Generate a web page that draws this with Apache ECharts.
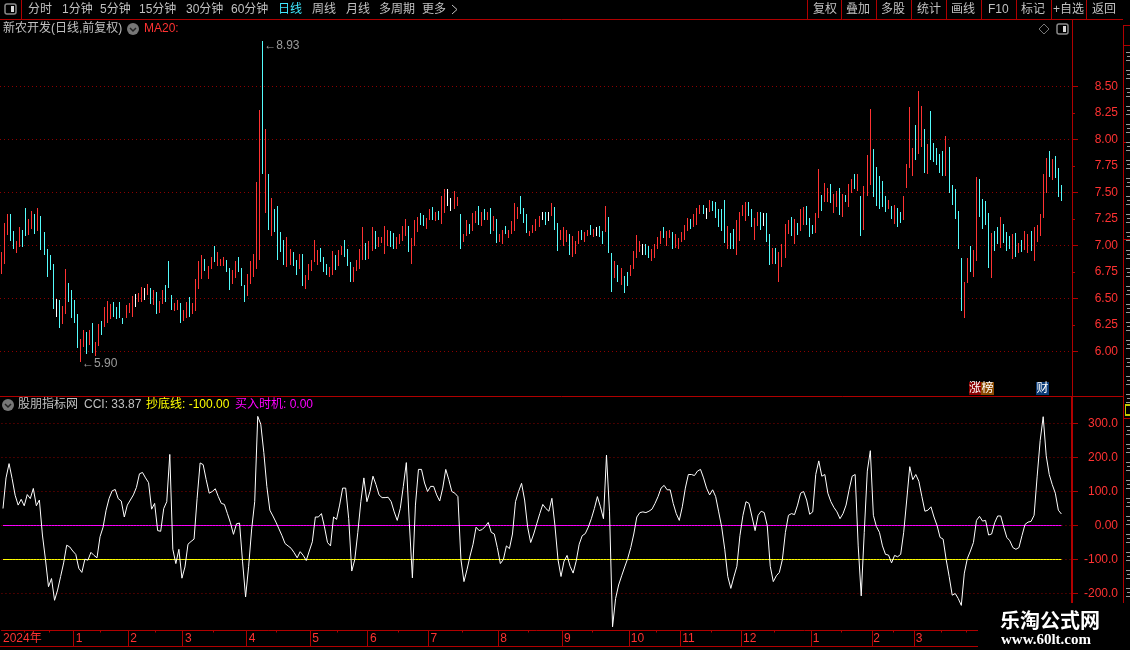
<!DOCTYPE html>
<html><head><meta charset="utf-8"><title>新农开发</title>
<style>html,body{margin:0;padding:0;background:#000}#c{width:1130px;height:650px}</style>
<script src="https://cdn.jsdelivr.net/npm/echarts@6/dist/echarts.min.js"></script></head>
<body><div id="c"></div>
<script>
const priceHigh=[6.94,7.21,7.30,7.30,7.14,7.04,7.17,7.15,7.35,7.25,7.33,7.30,7.35,7.28,7.13,6.97,6.91,6.83,6.50,6.49,6.43,6.78,6.65,6.58,6.49,6.35,6.12,6.20,6.18,6.20,6.27,6.09,6.26,6.29,6.42,6.48,6.45,6.47,6.42,6.47,6.32,6.44,6.46,6.52,6.54,6.55,6.61,6.60,6.64,6.60,6.58,6.56,6.48,6.58,6.63,6.85,6.53,6.46,6.49,6.46,6.39,6.47,6.51,6.46,6.68,6.85,6.91,6.87,6.81,6.89,7.00,6.94,6.87,6.89,6.86,6.79,6.77,6.85,6.89,6.79,6.63,6.73,6.85,6.92,
7.60,8.28,8.93,8.10,7.67,7.45,7.34,7.37,7.13,7.05,7.08,6.97,6.94,6.86,6.92,6.92,6.72,6.83,
6.86,7.05,6.96,6.98,6.89,6.83,6.80,6.95,6.91,6.96,7.00,7.05,6.97,6.84,6.80,6.86,6.97,7.17,7.02,7.04,
7.17,7.14,7.08,7.08,7.18,7.15,7.14,7.12,7.08,7.11,7.18,7.25,7.18,7.07,7.24,7.27,7.31,7.29,7.26,7.34,7.36,7.32,7.33,7.47,7.53,7.53,7.45,
7.51,7.46,7.30,7.11,7.24,7.20,7.31,7.33,7.37,7.32,7.34,7.32,7.35,7.28,7.25,7.11,7.15,7.18,7.15,7.23,7.40,7.36,7.47,7.35,7.30,7.14,7.19,
7.25,7.28,7.32,7.32,7.32,7.40,7.36,7.21,
7.15,7.17,7.15,7.11,7.09,7.04,7.14,7.15,7.13,7.15,7.19,7.16,7.17,7.18,7.14,7.37,7.27,6.93,6.85,6.82,
6.79,6.71,6.75,6.82,6.95,7.10,7.04,7.01,7.01,7.00,6.97,7.01,7.08,7.14,7.17,7.14,7.15,7.13,7.11,7.07,7.13,7.19,7.26,7.25,7.30,7.35,7.38,
7.38,7.35,7.43,7.42,7.41,7.34,7.34,7.43,7.18,7.12,7.16,7.24,7.32,7.38,7.41,7.41,7.34,7.26,7.32,7.32,7.31,7.31,7.11,6.98,6.98,6.94,7.01,
7.20,7.24,7.27,7.25,7.21,7.34,7.36,7.37,7.26,7.19,7.31,7.72,7.48,7.59,7.54,7.58,7.49,7.51,7.54,
7.49,7.48,7.58,7.63,7.67,7.67,7.47,7.56,
7.85,8.29,7.91,7.74,7.66,7.61,7.47,7.43,7.37,7.38,7.35,7.32,7.47,7.77,8.31,7.92,8.14,8.46,8.32,8.10,7.96,8.27,7.97,7.92,7.86,7.89,8.03,
7.93,7.57,7.53,7.33,6.88,6.66,6.88,7.00,6.96,7.65,7.63,7.44,7.42,7.31,7.12,7.14,7.17,7.27,7.20,7.13,7.09,7.11,7.12,7.02,7.05,7.14,7.11,
7.14,7.17,7.19,7.30,7.67,7.83,7.89,7.82,7.84,7.73,7.57];
const priceLow=[6.73,6.83,7.10,7.04,6.97,6.93,6.99,6.99,7.09,7.10,7.16,7.11,7.14,6.96,6.91,6.70,6.77,6.40,6.33,6.22,6.26,6.35,6.47,6.32,6.27,6.03,5.90,6.04,5.98,6.06,5.99,5.96,6.05,6.16,6.23,6.27,6.31,6.33,6.31,6.32,6.26,6.32,6.36,6.33,6.42,6.47,6.47,6.49,6.53,6.45,6.44,6.35,6.36,6.45,6.47,6.60,6.39,6.38,6.39,6.27,6.29,6.32,6.33,6.35,6.38,6.59,6.68,6.76,6.68,6.78,6.84,6.81,6.81,6.81,6.75,6.58,6.64,6.69,6.75,6.62,6.47,6.52,6.64,6.70,
6.78,6.86,7.67,7.31,7.15,7.09,7.13,6.86,6.94,6.82,6.80,6.82,6.81,6.72,6.78,6.62,6.59,6.67,
6.76,6.84,6.82,6.84,6.75,6.72,6.70,6.72,6.77,6.81,6.91,6.89,6.81,6.66,6.66,6.76,6.78,6.86,6.86,6.87,
6.95,6.97,6.99,7.02,6.92,7.00,6.99,6.97,6.97,7.01,7.04,7.09,6.94,6.83,7.00,7.13,7.19,7.18,7.16,7.24,7.24,7.23,7.24,7.20,7.31,7.37,7.33,
7.34,7.37,6.97,7.03,7.09,7.11,7.14,7.21,7.19,7.18,7.24,7.24,7.11,7.14,7.02,7.03,7.01,7.11,7.07,7.11,7.14,7.25,7.30,7.21,7.12,7.09,7.12,
7.14,7.17,7.24,7.19,7.23,7.28,7.15,6.95,
7.05,7.00,7.03,6.91,6.89,6.92,7.01,7.05,7.03,7.09,7.10,7.08,7.09,7.08,7.01,7.13,6.93,6.56,6.69,6.66,
6.63,6.55,6.62,6.71,6.78,6.88,6.94,6.91,6.91,6.88,6.85,6.88,6.97,7.01,7.07,7.00,7.07,6.97,6.98,6.97,7.03,7.05,7.14,7.16,7.17,7.19,7.30,
7.30,7.25,7.32,7.33,7.26,7.17,7.14,7.02,6.97,6.97,6.97,6.91,7.04,7.28,7.23,7.28,7.17,7.05,7.18,7.15,7.18,7.03,6.82,6.83,6.83,6.66,6.80,
6.88,7.11,7.09,7.01,7.10,7.14,7.19,7.19,7.08,7.11,7.12,7.26,7.33,7.41,7.41,7.40,7.31,7.36,7.29,
7.27,7.41,7.36,7.50,7.53,7.51,7.09,7.15,
7.47,7.57,7.46,7.37,7.34,7.36,7.32,7.34,7.25,7.20,7.17,7.21,7.24,7.54,7.73,7.66,7.81,7.86,7.93,7.68,7.67,7.81,7.79,7.76,7.68,7.66,7.66,
7.50,7.38,7.25,6.97,6.38,6.32,6.65,6.75,6.70,6.85,7.27,7.16,7.19,6.79,6.69,6.95,7.01,6.98,7.02,6.95,6.97,6.87,6.89,6.93,6.94,6.96,6.93,
6.95,6.85,7.03,7.09,7.26,7.50,7.65,7.62,7.64,7.46,7.42];
const barKinds=("rrrccrrccr rcrcccccwc rrccccrrcr crrcrrrccc crrrwrrwrc rcrrcccrrc rrcrrrrcrr crrrccrrcc crrr"+
"rrcrcrcccc rrccrcrr"+
"rrrcccrrcr rcccrrrrcr rcrrrrccrr rrcrrrccrr crcrrww rrcrrcrrcr crcrcrrcrr rrcccrr rrwcwrcc"+
"rrrcrrrcrr crwccrccrc rccrrrrwcc rrrrcrrcrr rrrcrrr cwrcccccrc crrrrccrrc wccrcrr rrcrcrrccc rrcrrcrrc"+
"rcrrcrcr rrcccccrcr ccrrrrcrrc rcccccr cccccrrcrr ccccrccrcc crcrcrr crrrrrcrccc").replace(/ /g,"").split("");
const cciValues=[50,140,182,138,89,60,77,58,91,79,
109,58,75,-28,-100,-180,-156,-220,-190,-150,
-110,-58,-63,-75,-85,-126,-138,-99,-102,-79,
-88,-95,-33,-5,45,80,102,106,79,72,
25,60,75,90,112,152,156,140,126,48,
65,-15,-17,50,70,209,-70,-112,-70,-155,
-122,-55,-47,-40,79,184,179,135,95,100,
108,85,65,62,35,8,-26,5,7,-107,
-210,-120,-10,70,321,298,215,115,45,28,
10,-10,-30,-53,-60,-67,-80,-95,-77,-88,
-103,-75,-48,25,25,35,-4,-50,-60,25,
18,60,110,110,20,-134,-100,-20,70,140,
70,100,145,120,90,82,82,83,70,40,
15,50,115,185,5,-154,60,165,165,125,
100,115,115,90,72,110,165,135,100,95,
85,-100,-165,-130,-90,-55,-5,-15,-12,-3,
9,-20,-25,-65,-112,-100,-60,-68,-25,70,
100,124,75,-5,-50,-25,5,35,62,50,
42,80,0,-100,-150,-105,-88,-120,-140,-105,
-55,-30,-24,-5,20,50,85,55,20,207,
40,-298,-215,-175,-148,-122,-97,-65,-25,25,
38,40,38,42,48,65,85,110,118,105,
105,65,35,15,55,110,150,150,147,160,
165,140,110,90,105,85,40,-5,-70,-150,
-185,-151,-120,-30,30,70,65,25,-15,30,
42,38,0,-120,-165,-148,-138,-100,-20,30,
35,32,60,95,100,75,33,40,150,
190,145,150,95,70,53,40,20,35,60,
105,145,150,-60,-207,-20,160,220,30,-3,
-20,-60,-85,-87,-110,-88,-92,-85,-20,75,
173,135,150,130,85,42,45,55,25,0,
-35,-40,-100,-150,-205,-200,-215,-235,-140,-97,
-75,-50,15,27,13,15,-28,-25,8,28,
28,-5,-35,-45,-65,-70,-65,-30,3,10,
12,30,143,250,320,205,150,120,95,45,33.87];
const buyLevel=0, bottomLevel=-100;
const monthLabels=["2024年","1","2","3","4","5","6","7","8","9","10","11","12","1","2","3"];
const monthBars=[0,24,42,60,81,102,121,141,164,185,207,224,244,267,287,301];
const weekBars=[8,16,33,51,70,91,111,131,152,174,195,216,234,255,277,294,310,318];
const priceTicks=[8.5,8.25,8,7.75,7.5,7.25,7,6.75,6.5,6.25,6];
const priceMajor=[8.5,8,7.5,7,6.5,6];
const cciTicks=[300,200,100,0,-100,-200];
const extremes=[[26,5.90],[86,8.93]];
const toolbarLeft=[["分时",28],["1分钟",62],["5分钟",100],["15分钟",139],["30分钟",186],["60分钟",231],["日线",278],["周线",312],["月线",346],["多周期",379],["更多",422]];
const toolbarRight=[["复权",813],["叠加",846],["多股",881],["统计",917],["画线",951],["F10",988],["标记",1021],["+自选",1053],["返回",1092]];
const toolbarSeps=[807,841,876,911,946,981,1016,1051,1086];

const RED="#ff3232",CYAN="#54fcfc",LINE="#b00000",DOT="#8c0000",GREY="#c0c0c0";
const FONT='"Liberation Sans","Noto Sans CJK SC",sans-serif';
const totalBands=353;
const priceMin=6-44.5/106, priceMax=8.5+66.5/106, cciMin=-104.5/0.34, cciMax=128.5/0.34;
const cats=Array.from({length:totalBands},(_,i)=>String(i));
const KCOL={r:RED,c:CYAN,w:"#ffffff"};
const bars=priceHigh.map((h,i)=>[i,priceLow[i],h,barKinds[i]]);
const dotted=v=>({yAxis:v});
const dotStyle={color:DOT,type:[1,3],width:1};
function renderBar(params,api){
 const top=api.coord([api.value(0),api.value(2)]),bot=api.coord([api.value(0),api.value(1)]);
 const x=Math.floor(top[0]),y=Math.round(top[1]),h=Math.max(1,Math.round(bot[1])-y);
 return {type:"rect",shape:{x,y,width:1,height:h},style:{fill:KCOL[bars[params.dataIndex][3]]}};
}
function renderTick(params,api){
 const band=api.size([1,0])[0];
 const top=api.coord([api.value(0),1]),bot=api.coord([api.value(0),api.value(1)]);
 const x=Math.round(top[0]-band/2);
 return {type:"rect",shape:{x,y:top[1],width:1,height:bot[1]-top[1]},style:{fill:LINE}};
}
function T(x,y,text,fill,opt){return {type:"text",z:120,silent:true,style:Object.assign({x,y,text,fill,font:'12px '+FONT,textAlign:"left",textVerticalAlign:"middle"},opt||{})};}
function L(x1,y1,x2,y2,c,w){return {type:"line",z:110,silent:true,shape:{x1,y1,x2,y2},style:{stroke:c||LINE,lineWidth:w||1}};}
function R(x,y,w,h,fill,z,r){return {type:"rect",z:z||110,silent:true,shape:{x,y,width:w,height:h,r:r||0},style:{fill}};}
function sideIcon(x,y){return [
 {type:"rect",z:115,silent:true,shape:{x,y,width:11,height:10,r:2},style:{fill:"#000",stroke:"#8a8a8a",lineWidth:1.5}},
 R(x+6,y+2,3,6,"#d8d8d8",116)];}
function circleIcon(cx,cy){return [
 {type:"circle",z:115,silent:true,shape:{cx,cy,r:6},style:{fill:"#777"}},
 {type:"polyline",z:116,silent:true,shape:{points:[[cx-3,cy-1],[cx,cy+2],[cx+3,cy-1]]},style:{stroke:"#222",fill:"none",lineWidth:1.5}}];}
const g=[];
g.push(L(0,19.5,1123,19.5));
g.push(L(21.5,0,21.5,19));
toolbarSeps.forEach(x=>g.push(L(x+.5,0,x+.5,19)));
g.push(L(1123.5,25,1123.5,603));
toolbarLeft.forEach(([t,x])=>g.push(T(x,9.5,t,t==="日线"?"#40e8ff":GREY,{font:'12px '+FONT})));
g.push({type:"polyline",z:116,silent:true,shape:{points:[[452,5],[457,9.5],[452,14]]},style:{stroke:GREY,fill:"none",lineWidth:1}});
toolbarRight.forEach(([t,x])=>g.push(T(x,9.5,t,GREY)));
g.push(...sideIcon(5,4));
g.push(T(3,29,"新农开发(日线,前复权)",GREY));
g.push(...circleIcon(133,29));
g.push(T(144,29,"MA20:",RED));
g.push({type:"polygon",z:116,silent:true,shape:{points:[[1044,24],[1049,29],[1044,34],[1039,29]]},style:{fill:"none",stroke:"#777",lineWidth:1}});
g.push(...sideIcon(1057,24));
g.push(L(0,396.5,1123,396.5));
g.push(R(969,382,12,13,"#8b0000",115));g.push(R(981,382,13,13,"#8b4a00",115));g.push(R(1036,382,13,13,"#0c3c78",115));
g.push(T(969,388.5,"涨","#fff"));g.push(T(981.5,388.5,"榜","#fff"));g.push(T(1036.5,388.5,"财","#fff"));
g.push(...circleIcon(8,405));
g.push(T(18,405,"股朋指标网",GREY));
g.push(T(84,405,"CCI: 33.87",GREY));
g.push(T(146,405,"抄底线: -100.00","#ffff00"));
g.push(T(235,405,"买入时机: 0.00","#ff00ff"));
g.push(L(0,646.5,978,646.5));
g.push(L(1123,25.5,1130,25.5));g.push(L(1123,45.5,1130,45.5));g.push(L(1123,142.5,1130,142.5));g.push(L(1123,239.5,1130,239.5));
g.push(L(1123,418.5,1130,418.5));
g.push(R(1125,404,5,12,"#c8c800",111));g.push(R(1126,406,4,8,"#000",112));
for(let y=52;y<396;y+=18){g.push(R(1126,y,4,1,"#9a9a9a",111));g.push(R(1127,y+4,3,1,"#9a9a9a",111));g.push(R(1126,y+8,4,1,"#9a9a9a",111));}
for(let y=426;y<600;y+=18){g.push(R(1126,y,4,1,"#9a9a9a",111));g.push(R(1127,y+4,3,1,"#9a9a9a",111));g.push(R(1126,y+8,4,1,"#9a9a9a",111));}
g.push(R(978,603,152,47,"#000",118));
g.push(T(1000,620,"乐淘公式网","#ffffff",{font:'bold 20px "Noto Sans CJK SC",serif'}));
g.push(T(1001,640,"www.60lt.com","#ffffff",{font:'bold 15px "Liberation Serif",serif'}));

const option={
 backgroundColor:"#000",animation:false,
 tooltip:{show:false},
 grid:[{left:0,top:20,width:1072,height:376},{left:0,top:397,width:1072,height:233},{left:0,top:630,width:1072,height:16}],
 xAxis:[
  {type:"category",gridIndex:0,data:cats,axisLine:{show:false},axisTick:{show:false},axisLabel:{show:false},splitLine:{show:false}},
  {type:"category",gridIndex:1,data:cats,position:"bottom",axisLine:{onZero:false,lineStyle:{color:LINE,width:1}},
   axisTick:{show:false},
   axisLabel:{margin:3,interval:0,align:"left",color:RED,fontFamily:FONT,fontSize:12,hideOverlap:false,
    formatter:(v,i)=>{const k=monthBars.indexOf(i);return k>=0?monthLabels[k]:"";}},splitLine:{show:false}},
  {type:"category",gridIndex:2,data:cats,axisLine:{show:false},axisTick:{show:false},axisLabel:{show:false},splitLine:{show:false}}
 ],
 yAxis:[
  {type:"value",gridIndex:0,position:"right",min:priceMin,max:priceMax,scale:true,
   axisLine:{show:true,onZero:false,lineStyle:{color:LINE,width:1}},
   axisTick:{show:true,length:3,customValues:priceTicks,lineStyle:{color:LINE}},
   axisLabel:{show:true,customValues:priceTicks,margin:46,align:"right",color:RED,fontFamily:FONT,fontSize:12,formatter:v=>v.toFixed(2)},
   splitLine:{show:false}},
  {type:"value",gridIndex:0,position:"right",min:priceMin,max:priceMax,scale:true,
   axisLine:{show:false},axisTick:{show:true,length:6,customValues:priceMajor,lineStyle:{color:LINE}},
   axisLabel:{show:false},splitLine:{show:false}},
  {type:"value",gridIndex:1,position:"right",min:cciMin,max:cciMax,
   axisLine:{show:true,onZero:false,lineStyle:{color:LINE,width:2}},
   axisTick:{show:true,length:6,customValues:cciTicks,lineStyle:{color:LINE}},
   axisLabel:{show:true,customValues:cciTicks,margin:46,align:"right",color:RED,fontFamily:FONT,fontSize:12,formatter:v=>v===0?"0.00":v.toFixed(1)},
   splitLine:{show:false}},
  {type:"value",gridIndex:2,min:0,max:1,show:false}
 ],
 series:[
  {name:"K",type:"custom",xAxisIndex:0,yAxisIndex:0,data:bars.map(b=>[b[0],b[1],b[2]]),encode:{x:0,y:[1,2]},renderItem:renderBar,silent:true,clip:false,z:3,
   markLine:{silent:true,symbol:["none","none"],label:{show:false},lineStyle:dotStyle,data:priceMajor.map(dotted),animation:false,z:1}},
  {name:"extremes",type:"scatter",xAxisIndex:0,yAxisIndex:0,symbolSize:1,silent:true,itemStyle:{color:"transparent"},z:4,
   data:extremes.map(e=>({value:e,label:{offset:e[1]>8?[2,5]:[2,2]}})),
   label:{show:true,position:"right",distance:-1,color:GREY,fontFamily:FONT,fontSize:12,formatter:p=>"←"+p.value[1].toFixed(2)}},
  {name:"抄底线",type:"line",xAxisIndex:1,yAxisIndex:2,showSymbol:false,silent:true,data:cciValues.map(()=>bottomLevel),lineStyle:{color:"#ffff00",width:1},z:3},
  {name:"买入时机",type:"line",xAxisIndex:1,yAxisIndex:2,showSymbol:false,silent:true,data:cciValues.map(()=>buyLevel),lineStyle:{color:"#ff00ff",width:1},z:3},
  {name:"CCI",type:"line",xAxisIndex:1,yAxisIndex:2,showSymbol:false,silent:true,data:cciValues,lineStyle:{color:"#ffffff",width:1},z:5,
   markLine:{silent:true,symbol:["none","none"],label:{show:false},lineStyle:dotStyle,data:cciTicks.map(dotted),animation:false,z:1}},
  {name:"ticks",type:"custom",xAxisIndex:2,yAxisIndex:3,silent:true,clip:false,renderItem:renderTick,encode:{x:0,y:1},
   data:monthBars.slice(1).map(i=>[i,0]).concat(weekBars.map(i=>[i,0.85]))}
 ],
 graphic:{elements:g}
};
const chart=echarts.init(document.getElementById("c"));
chart.setOption(option);
</script></body></html>
